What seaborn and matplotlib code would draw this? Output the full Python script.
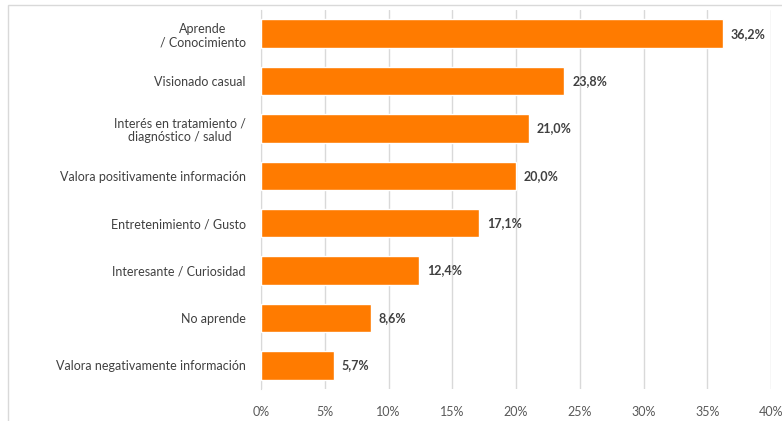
import matplotlib
matplotlib.use('Agg')
import matplotlib.pyplot as plt
import seaborn as sns
import pandas as pd
from matplotlib.patches import Rectangle

# data
categorias = ['Aprende\n/ Conocimiento', 'Visionado casual',
              'Interés en tratamiento /\ndiagnóstico / salud',
              'Valora positivamente información', 'Entretenimiento / Gusto',
              'Interesante / Curiosidad', 'No aprende',
              'Valora negativamente información']
porcentajes = [36.2, 23.8, 21.0, 20.0, 17.1, 12.4, 8.6, 5.7]
ticks = [0, 5, 10, 15, 20, 25, 30, 35, 40]

df = pd.DataFrame({'cat': categorias, 'pct': porcentajes})

sns.set_style('white')
plt.rcParams['font.family'] = ['Lato', 'DejaVu Sans']

fig = plt.figure(figsize=(7.82, 4.21), dpi=100)
ax = fig.add_axes([261 / 782, 1 - 389 / 421, 510 / 782, 379 / 421])

sns.barplot(data=df, x='pct', y='cat', color='#FF7B00', width=0.6,
            saturation=1, ax=ax, zorder=3)

ax.set_xlim(0, 40)
ax.set_xticks(ticks)
ax.set_xticklabels([f'{t}%' for t in ticks], fontsize=9, color='#595959')
ax.set_xlabel('')
ax.set_ylabel('')
ax.tick_params(axis='y', labelsize=9, labelcolor='#404040', length=0, pad=11)
ax.tick_params(axis='x', length=0, pad=12)
for lbl in ax.get_yticklabels():
    lbl.set_horizontalalignment('right')
    lbl.set_multialignment('center')

ax.grid(axis='x', color='#d9d9d9', linewidth=1, zorder=0)
for s in ['top', 'right', 'bottom']:
    ax.spines[s].set_visible(False)
ax.spines['left'].set_color('#d9d9d9')

for p, v in zip(ax.patches, porcentajes):
    ax.text(p.get_width() + 0.6, p.get_y() + p.get_height() / 2,
            f'{v:.1f}%'.replace('.', ','), va='center', ha='left',
            fontsize=9, color='#404040', fontweight='bold')

# light frame around the chart
fig.patches.append(Rectangle((8 / 782, -0.05), 1.2, 1 - 5 / 421 + 0.05,
                             transform=fig.transFigure, fill=False,
                             edgecolor='#d9d9d9', linewidth=1))

fig.savefig('out.png', dpi=100)
